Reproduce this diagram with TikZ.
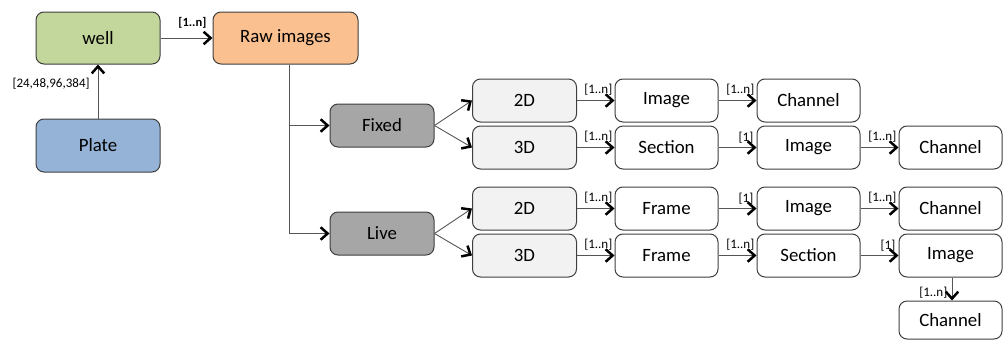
\documentclass[tikz,border=0pt]{standalone}
\usepackage{fontspec}
\setmainfont{Carlito}
\usetikzlibrary{arrows.meta}
\definecolor{wellgreen}{HTML}{C3D69B}
\definecolor{raworange}{HTML}{FBC08F}
\definecolor{plateblue}{HTML}{95B3D7}
\definecolor{groupgray}{HTML}{A6A6A6}
\definecolor{dimfill}{HTML}{F2F2F2}
\definecolor{edge}{HTML}{3F3F3F}
\definecolor{linegray}{HTML}{555555}
\begin{document}
\begin{tikzpicture}[x=1pt,y=-1pt,
  box/.style={draw=edge, line width=1pt, rounded corners=8pt, fill=white,
    minimum width=103pt, minimum height=43pt, inner sep=0pt,
    font=\fontsize{18.8}{20}\selectfont},
  conn/.style={draw=linegray, line width=0.9pt,
    -{Straight Barb[length=7pt,width=12.5pt,line width=2.5pt,color=black]}},
  lbl/.style={font=\fontsize{13}{14}\selectfont, inner sep=0pt, anchor=south east},
]
\useasboundingbox (0,0) rectangle (1004,340);

% top-level entities
\node[box, fill=wellgreen, minimum width=124pt, minimum height=52pt] (well) at (98,38) {well};
\node[box, fill=raworange, minimum width=145pt, minimum height=52pt] (raw) at (285.5,38) {Raw images};
\node[box, fill=plateblue, minimum width=124pt, minimum height=53pt] (plate) at (98,145.5) {Plate};

% acquisition modes
\node[box, fill=groupgray, minimum width=104pt] (fixed) at (382,125.5) {Fixed};
\node[box, fill=groupgray, minimum width=104pt] (live) at (382,233.5) {Live};

% dimensionality
\node[box, fill=dimfill, minimum width=104pt] (f2d) at (524.5,100.5) {2D};
\node[box, fill=dimfill, minimum width=104pt] (f3d) at (524.5,147.5) {3D};
\node[box, fill=dimfill, minimum width=104pt] (l2d) at (524.5,208.5) {2D};
\node[box, fill=dimfill, minimum width=104pt] (l3d) at (524.5,255.5) {3D};

% fixed 2D chain
\node[box] (fimg) at (666.5,100.5) {Image};
\node[box] (fch) at (808.5,100.5) {Channel};
% fixed 3D chain
\node[box] (fsec) at (666.5,147.5) {Section};
\node[box] (fsimg) at (808.5,147.5) {Image};
\node[box] (fsch) at (950.5,147.5) {Channel};
% live 2D chain
\node[box] (lfr) at (666.5,208.5) {Frame};
\node[box] (limg) at (808.5,208.5) {Image};
\node[box] (lch) at (950.5,208.5) {Channel};
% live 3D chain
\node[box] (lfr3) at (666.5,255.5) {Frame};
\node[box] (lsec) at (808.5,255.5) {Section};
\node[box] (limg3) at (950.5,255.5) {Image};
\node[box, minimum height=38pt] (lch3) at (950.5,320) {Channel};

% plate -> well -> raw images
\draw[conn] (plate) -- node[pos=0.65, left=8pt, font=\fontsize{13}{14}\selectfont, inner sep=0pt] {[24,48,96,384]} (well);
\draw[conn] (well) -- (raw);
\node[lbl, font=\bfseries\fontsize{12.5}{13}\selectfont] at ([xshift=-6pt,yshift=9pt]raw.west) {[1..n]};

% trunk to the acquisition modes
\coordinate (trunk) at ([xshift=3.5pt]raw.south);
\draw[conn] (trunk) |- (live.west);
\draw[conn] (trunk |- fixed.west) -- (fixed.west);

% fan out to 2D / 3D
\draw[conn] (fixed.east) -- (f2d.west);
\draw[conn] (fixed.east) -- (f3d.west);
\draw[conn] (live.east) -- (l2d.west);
\draw[conn] (live.east) -- (l3d.west);

% chains with multiplicities
\draw[conn] (f2d) -- (fimg);   \node[lbl] at ([xshift=-2pt,yshift=5pt]fimg.west) {[1..n]};
\draw[conn] (fimg) -- (fch);   \node[lbl] at ([xshift=-2pt,yshift=5pt]fch.west) {[1..n]};

\draw[conn] (f3d) -- (fsec);   \node[lbl] at ([xshift=-2pt,yshift=5pt]fsec.west) {[1..n]};
\draw[conn] (fsec) -- (fsimg); \node[lbl] at ([xshift=-3pt,yshift=4pt]fsimg.west) {[1]};
\draw[conn] (fsimg) -- (fsch); \node[lbl] at ([xshift=-2pt,yshift=5pt]fsch.west) {[1..n]};

\draw[conn] (l2d) -- (lfr);    \node[lbl] at ([xshift=-2pt,yshift=5pt]lfr.west) {[1..n]};
\draw[conn] (lfr) -- (limg);   \node[lbl] at ([xshift=-3pt,yshift=4pt]limg.west) {[1]};
\draw[conn] (limg) -- (lch);   \node[lbl] at ([xshift=-2pt,yshift=5pt]lch.west) {[1..n]};

\draw[conn] (l3d) -- (lfr3);   \node[lbl] at ([xshift=-2pt,yshift=5pt]lfr3.west) {[1..n]};
\draw[conn] (lfr3) -- (lsec);  \node[lbl] at ([xshift=-2pt,yshift=5pt]lsec.west) {[1..n]};
\draw[conn] (lsec) -- (limg3); \node[lbl] at ([xshift=-3pt,yshift=4pt]limg3.west) {[1]};
\draw[conn] ([xshift=1.5pt]limg3.south) -- ([xshift=1.5pt]lch3.north);
\node[lbl] at ([xshift=-3pt,yshift=2.5pt]lch3.north) {[1..n]};
\end{tikzpicture}
\end{document}
